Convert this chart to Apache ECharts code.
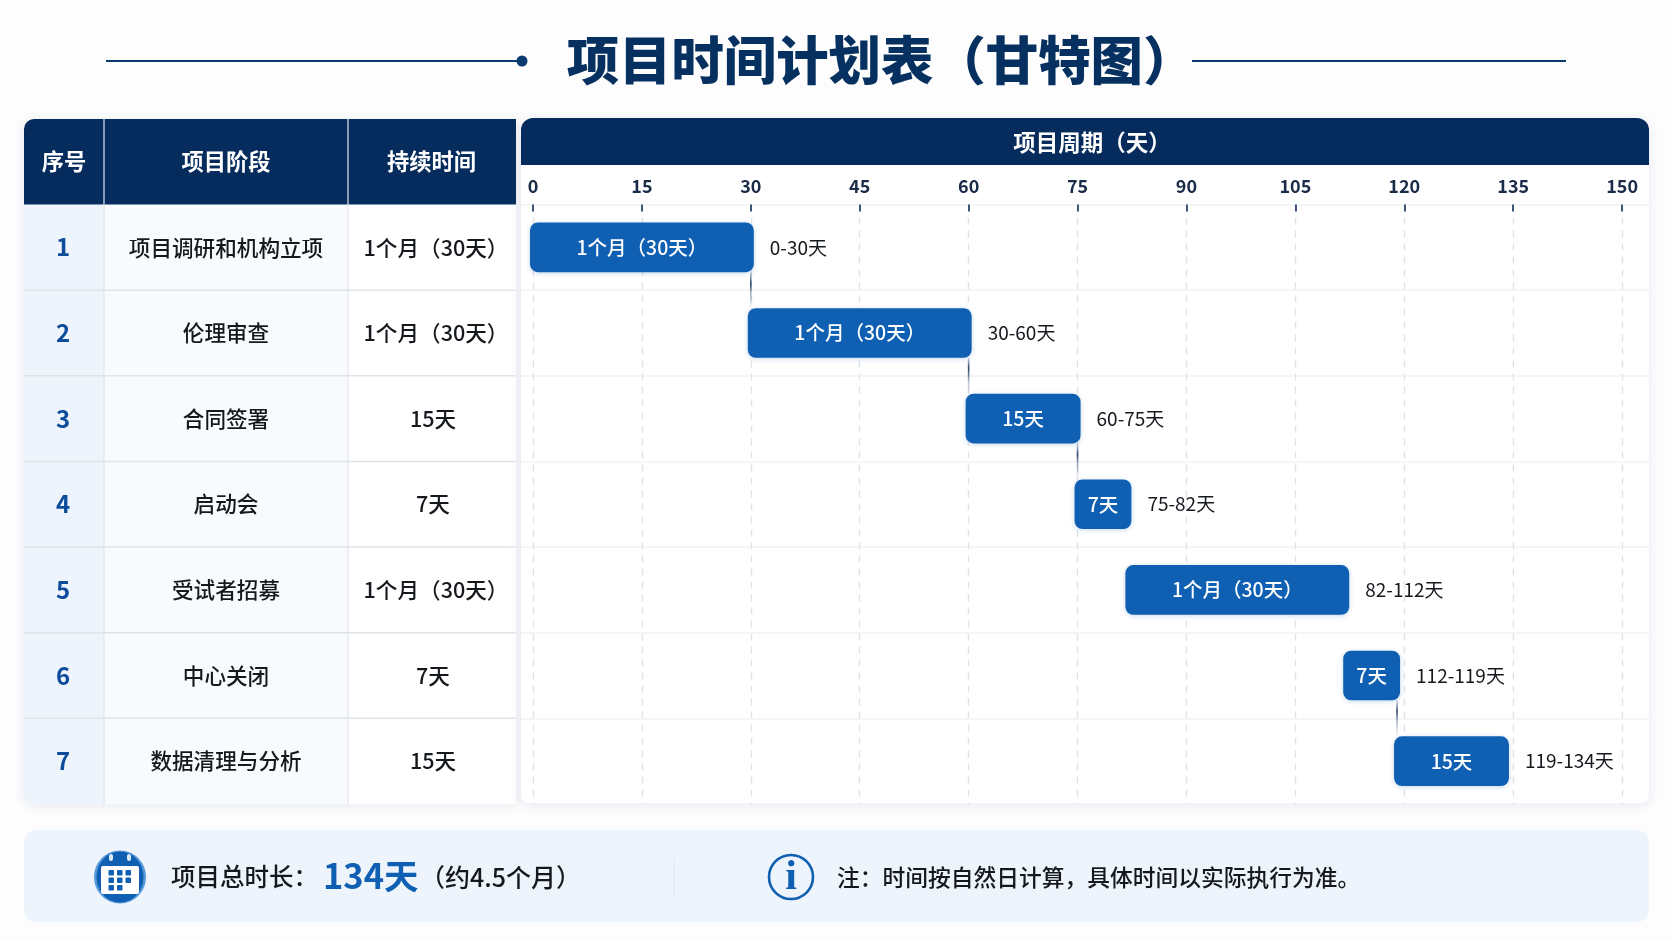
<!DOCTYPE html>
<html><head><meta charset="utf-8">
<style>html,body{margin:0;padding:0;background:#fdfdfe}#c{width:1672px;height:941px}</style>
<script src="https://cdn.jsdelivr.net/npm/echarts@6/dist/echarts.min.js"></script>
</head><body><div id="c"></div>
<script>
const titleText = '项目时间计划表（甘特图）';
const headers = ['序号', '项目阶段', '持续时间'];
const axisTitle = '项目周期（天）';
const rowIds = ['1','2','3','4','5','6','7'];
const phases = ['项目调研和机构立项','伦理审查','合同签署','启动会','受试者招募','中心关闭','数据清理与分析'];
const durations = ['1个月（30天）','1个月（30天）','15天','7天','1个月（30天）','7天','15天'];
const starts = [0,30,60,75,82,112,119];
const ends = [30,60,75,82,112,119,134];
const barLabels = ['1个月（30天）','1个月（30天）','15天','7天','1个月（30天）','7天','15天'];
const rangeLabels = ['0-30天','30-60天','60-75天','75-82天','82-112天','112-119天','119-134天'];
const linkedRows = [0,1,2,5];
const tickValues = [0,15,30,45,60,75,90,105,120,135,150];
const summaryLabel = '项目总时长：';
const summaryValue = '134天';
const summaryNote = '（约4.5个月）';
const noteText = '注：时间按自然日计算，具体时间以实际执行为准。';

const FONT = '"Noto Sans CJK SC","Noto Sans",sans-serif';
const NAVY = '#052c5c', BLUE = '#0f5fb3';
const T = {left:24, right:516, top:119, headBottom:204.5, bottom:804};
const colX = [24,104,348,516];
const rowH = (T.bottom - T.headBottom) / phases.length;
const P = {left:521, right:1649, top:118};

function txt(x,y,text,size,fill,weight,align,z,font){
  return {type:'text',x,y,z:z||2,silent:true,style:{text,fontFamily:font||FONT,fontSize:size,fontWeight:weight||400,fill,align:align||'center',verticalAlign:'middle'}};
}
function rect(x,y,w,h,fill,r,extra,z){
  return {type:'rect',z:z===undefined?0:z,silent:true,shape:{x,y,width:w,height:h,r:r||0},style:Object.assign({fill},extra||{})};
}
function line(x1,y1,x2,y2,stroke,w,z){
  return {type:'line',z:z===undefined?1:z,silent:true,shape:{x1,y1,x2,y2},style:{stroke,lineWidth:w}};
}
const shadow = {shadowBlur:12,shadowColor:'rgba(30,60,110,0.10)',shadowOffsetY:2};
const g = [];
// title
g.push(txt(881,60,titleText,52.4,'#06305f',900));
g.push(line(106,61,522,61,'#0b3a70',2));
g.push({type:'circle',silent:true,z:1,shape:{cx:522,cy:61,r:5.5},style:{fill:'#0b3a70'}});
g.push(line(1192,61,1566,61,'#0b3a70',2));
// table panel
g.push(rect(T.left,T.top,T.right-T.left,T.bottom-T.top,'#fff',[10,0,0,10],shadow,-3));
g.push(rect(P.left,P.top,P.right-P.left,T.bottom-P.top,'#fff',10,shadow,-3));
g.push(rect(colX[0],T.headBottom,colX[1]-colX[0],T.bottom-T.headBottom,'#eef4fc',[0,0,0,10],null,-2));
g.push(rect(colX[1],T.headBottom,colX[2]-colX[1],T.bottom-T.headBottom,'#f8fafd',0,null,-2));
g.push(rect(T.left,T.top,T.right-T.left,T.headBottom-T.top,NAVY,[10,0,0,0],null,0));
g.push(rect(P.left,P.top,P.right-P.left,165-P.top,NAVY,[12,12,0,0],null,0));
[colX[1],colX[2]].forEach(x=>{
  g.push(line(x,T.top,x,T.headBottom,'#dfe6ef',1.2,1));
  g.push(line(x,T.headBottom,x,T.bottom,'#e3e6ea',1.2,1));
});
headers.forEach((h,i)=>g.push(txt((colX[i]+colX[i+1])/2-(i==2?0.5:0),161.5,h,22.3,'#fff',700)));
g.push(txt(1092,142,axisTitle,22.5,'#fff',700));
phases.forEach((p,i)=>{
  const cy = T.headBottom + rowH*(i+.5);
  g.push(txt(63,cy,rowIds[i],24,'#0d4c9b',700));
  g.push(txt(226,cy,p,21.6,'#15181d',500));
  g.push(txt(durations[i].length>4?436:433,cy,durations[i],21.6,'#15181d',500));
  if(i<phases.length-1) g.push(line(T.left,cy+rowH/2,T.right,cy+rowH/2,'#e0e3e7',1.5,1));
});
// footer
g.push(rect(24,830,1625,92,'#eef4fc',12,null,-2));
g.push(line(674,858,674,896,'#dde5ef',1,1));
// calendar icon
g.push({type:'ellipse',silent:true,z:1,shape:{cx:120,cy:877,rx:26,ry:26.5},style:{fill:'#5b9bdc'}});
g.push({type:'ellipse',silent:true,z:1,shape:{cx:120,cy:877,rx:23.5,ry:25.5},style:{fill:BLUE}});
g.push(rect(101,866,38,28,'#fff',2,null,2));
[111,129].forEach(x=>g.push(rect(x-2,854,4,7,'#dcebfa',2,null,2)));
[0,1,2].forEach(r=>[0,1,2].forEach(c=>{ if(!(r==2&&c==2)) g.push(rect(108.5+c*8.5,870+r*7.5,5.5,5.5,BLUE,1,null,3)); }));
g.push(txt(171,877,summaryLabel,24.5,'#15181d',500,'left'));
g.push(txt(323,876,summaryValue,34.5,BLUE,700,'left'));
g.push(txt(420,877,summaryNote,25,'#15181d',500,'left'));
// info icon
g.push({type:'circle',silent:true,z:1,shape:{cx:791,cy:877,r:22},style:{fill:'none',stroke:BLUE,lineWidth:2.6}});
g.push(txt(791,878,'i',42,BLUE,700,'center',2,'"Liberation Serif",serif'));
g.push(txt(837,877,noteText,22.75,'#15181d',500,'left'));

const barData = starts.map((s,i)=>[i,s,ends[i]]);
const linkData = linkedRows.map(i=>[i,ends[i]]);

const chart = echarts.init(document.getElementById('c'),null,{renderer:'canvas'});
chart.setOption({
  animation:false,
  textStyle:{fontFamily:FONT},
  graphic:{elements:g},
  grid:{left:P.left,width:P.right-P.left,top:T.headBottom,height:T.bottom-T.headBottom},
  xAxis:{type:'value',position:'top',min:-1.65,max:153.7,z:1,
    axisLine:{show:false},
    axisTick:{show:true,inside:true,length:7,lineStyle:{color:'#12305c',width:1.6},customValues:tickValues},
    axisLabel:{margin:9,fontSize:18,fontWeight:600,color:'#1a2c48',fontFamily:FONT,customValues:tickValues},
    splitLine:{show:true,lineStyle:{color:'#dfe3e8',width:1.4,type:[7,6]}}},
  yAxis:{type:'category',inverse:true,data:phases,z:1,
    axisLine:{show:false},axisTick:{show:false},axisLabel:{show:false},
    splitLine:{show:true,lineStyle:{color:'#f0f2f5',width:1.5}}},
  series:[
    {type:'custom',name:'links',z:5,data:linkData,silent:true,encode:{x:1,y:0},
     renderItem(params,api){
       const r=api.value(0), p0=api.coord([api.value(1),r]), p1=api.coord([api.value(1),r+1]);
       const h=api.size([0,1])[1]*0.58;
       const y0=p0[1]+h/2, y1=p1[1]-h/2;
       return {type:'rect',shape:{x:p0[0]-.8,y:y0,width:1.6,height:y1-y0},
         style:{fill:new echarts.graphic.LinearGradient(0,0,0,1,[
           {offset:0,color:'rgba(18,48,92,0.15)'},{offset:.3,color:'rgba(18,48,92,0.9)'},
           {offset:.6,color:'rgba(18,48,92,0.35)'},{offset:1,color:'rgba(18,48,92,0.03)'}])}};
     }},
    {type:'custom',name:'phases',z:10,data:barData,encode:{x:[1,2],y:0},
     renderItem(params,api){
       const i=api.value(0), a=api.coord([api.value(1),i]), b=api.coord([api.value(2),i]);
       const h=api.size([0,1])[1]*0.58, pad=3;
       return {type:'group',children:[
         {type:'rect',shape:{x:a[0]-pad,y:a[1]-h/2,width:b[0]-a[0]+2*pad,height:h,r:8},
          style:{fill:BLUE,shadowBlur:5,shadowColor:'rgba(15,95,179,0.25)',shadowOffsetY:1}},
         {type:'text',style:{x:(a[0]+b[0])/2,y:a[1],text:barLabels[i],fill:'#fff',fontFamily:FONT,fontSize:19.5,fontWeight:500,align:'center',verticalAlign:'middle'}},
         {type:'text',style:{x:b[0]+19,y:a[1],text:rangeLabels[i],fill:'#15181d',fontFamily:FONT,fontSize:19,align:'left',verticalAlign:'middle'}}
       ]};
     }}
  ]
});
</script></body></html>
